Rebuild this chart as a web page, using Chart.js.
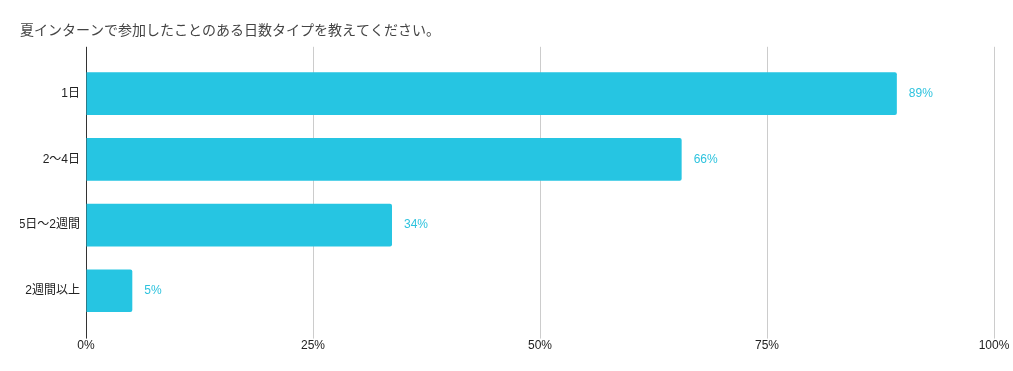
<!DOCTYPE html>
<html>
<head>
<meta charset="utf-8">
<script src="https://cdn.jsdelivr.net/npm/chart.js@4"></script>
<style>
  html, body { margin: 0; padding: 0; background: #fff; }
  #wrap { width: 1013px; height: 371px; }
</style>
</head>
<body>
<div id="wrap"><canvas id="daysChart"></canvas></div>
<script>
const titleText = '夏インターンで参加したことのある日数タイプを教えてください。';
const categories = ['1日', '2〜4日', '5日〜2週間', '2週間以上'];
const percentValues = [89.3, 65.6, 33.7, 5.1];
const xTicks = [0, 25, 50, 75, 100];

const barColor = '#26c5e2';
const labelColor = '#2ec3de';
const fontFamily = "'Liberation Sans', Arial, 'Noto Sans CJK JP', sans-serif";

// value labels to the right of each bar
const valueLabels = {
    id: 'valueLabels',
    afterDatasetsDraw(chart) {
        const ctx = chart.ctx;
        const meta = chart.getDatasetMeta(0);
        ctx.save();
        ctx.font = '12px ' + fontFamily;
        ctx.fillStyle = labelColor;
        ctx.textAlign = 'left';
        ctx.textBaseline = 'middle';
        meta.data.forEach(function (bar, i) {
            ctx.fillText(Math.round(percentValues[i]) + '%', bar.x + 12, bar.y);
        });
        ctx.restore();
    }
};

const gridColor = function (c) {
    return c.tick && c.tick.value === 0 ? '#333333' : '#cccccc';
};

const daysChart = new Chart(document.getElementById('daysChart').getContext('2d'), {
    type: 'bar',
    data: {
        labels: categories,
        datasets: [{
            data: percentValues,
            backgroundColor: barColor,
            borderRadius: 2,
            borderSkipped: 'start',
            categoryPercentage: 1,
            barPercentage: 0.65
        }]
    },
    options: {
        indexAxis: 'y',
        responsive: true,
        maintainAspectRatio: false,
        animation: false,
        layout: { padding: { left: 20, right: 19, top: 21, bottom: 18 } },
        plugins: {
            legend: { display: false },
            tooltip: { enabled: false },
            title: {
                display: true,
                text: titleText,
                align: 'start',
                color: '#444444',
                font: { family: "'Noto Sans CJK JP', sans-serif", size: 14, weight: 'normal' },
                padding: { top: 0, bottom: 9 }
            }
        },
        scales: {
            x2: {
                axis: 'x',
                type: 'linear',
                position: 'top',
                min: 0,
                max: 100,
                afterBuildTicks: function (scale) {
                    scale.ticks = xTicks.map(function (v) { return { value: v }; });
                },
                ticks: { display: false },
                grid: { drawOnChartArea: false, drawTicks: true, tickLength: 14, color: gridColor },
                border: { display: false }
            },
            x: {
                type: 'linear',
                position: 'bottom',
                min: 0,
                max: 100,
                afterBuildTicks: function (scale) {
                    scale.ticks = xTicks.map(function (v) { return { value: v }; });
                },
                ticks: {
                    color: '#222222',
                    font: { family: fontFamily, size: 12 },
                    padding: 0,
                    callback: function (v) { return v + '%'; }
                },
                grid: { color: gridColor, tickLength: 15 },
                border: { display: false }
            },
            y: {
                ticks: {
                    color: '#222222',
                    font: { family: fontFamily, size: 12 },
                    padding: 6
                },
                grid: { display: false, drawTicks: false },
                border: { display: true, color: '#333333', width: 1 },
                afterFit: function (scale) { scale.width = 66; }
            }
        }
    },
    plugins: [valueLabels]
});
</script>
</body>
</html>
